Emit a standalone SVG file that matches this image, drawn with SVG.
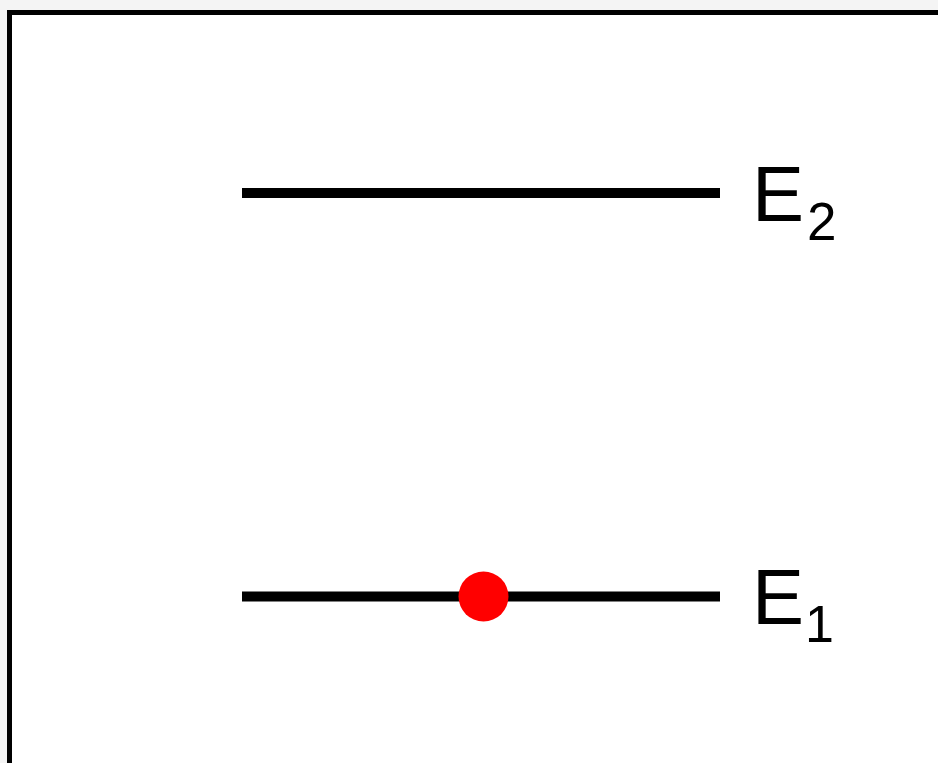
<svg xmlns="http://www.w3.org/2000/svg" width="938" height="763" viewBox="0 0 938 763">
  <style>
    .level { stroke: #000; stroke-width: 10; fill: none; }
    .lbl { font-family: "Liberation Sans", Arial, sans-serif; fill: #000; }
  </style>
  <rect x="0" y="0" width="938" height="763" fill="#f4f4f4"/>
  <rect id="frame" x="9.5" y="12.5" width="940" height="770" fill="#fff" stroke="#000" stroke-width="5"/>
  <g id="connectors"></g>
  <g id="level-E2">
    <line class="level" x1="242" y1="193" x2="720" y2="193"/>
    <text class="lbl" x="752" y="221" font-size="78">E</text>
    <text class="lbl" x="807" y="240" font-size="53">2</text>
  </g>
  <g id="level-E1">
    <line class="level" x1="242" y1="596.5" x2="720" y2="596.5"/>
    <text class="lbl" x="752" y="624" font-size="78">E</text>
    <text class="lbl" x="805" y="642" font-size="52">1</text>
  </g>
  <g id="particle">
    <circle cx="483.5" cy="596.5" r="25" fill="#ff0000"/>
  </g>
</svg>
